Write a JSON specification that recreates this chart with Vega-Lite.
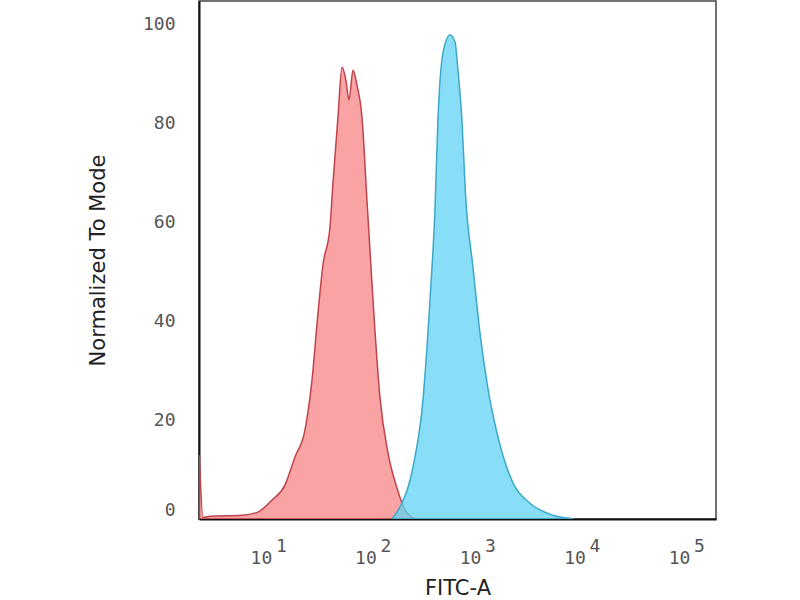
{
  "$schema": "https://vega.github.io/schema/vega-lite/v6.json",
  "width": 517,
  "height": 518,
  "autosize": {"type": "none"},
  "padding": {"left": 199, "top": 1, "right": 84, "bottom": 81},
  "background": "#ffffff",
  "config": {
    "view": {"stroke": "#444444", "strokeWidth": 1.5},
    "axis": {
      "ticks": false,
      "grid": false,
      "domainColor": "#111111",
      "domainWidth": 2,
      "labelFont": "DejaVu Sans Mono",
      "labelFontSize": 18,
      "labelColor": "#555555",
      "titleFont": "DejaVu Sans",
      "titleFontSize": 21,
      "titleFontWeight": "normal",
      "titleColor": "#222222"
    }
  },
  "datasets": {
    "hist": [
      {"series": "control", "fitc": 2.21, "mode": 12.9},
      {"series": "control", "fitc": 2.39, "mode": 0.35},
      {"series": "control", "fitc": 2.79, "mode": 0.56},
      {"series": "control", "fitc": 5.64, "mode": 0.76},
      {"series": "control", "fitc": 8.02, "mode": 1.4},
      {"series": "control", "fitc": 10.9, "mode": 3.8},
      {"series": "control", "fitc": 14.5, "mode": 6.8},
      {"series": "control", "fitc": 18.1, "mode": 12.5},
      {"series": "control", "fitc": 22.6, "mode": 18.0},
      {"series": "control", "fitc": 26.4, "mode": 28.1},
      {"series": "control", "fitc": 30.1, "mode": 41.6},
      {"series": "control", "fitc": 33.6, "mode": 51.4},
      {"series": "control", "fitc": 39.2, "mode": 59.0},
      {"series": "control", "fitc": 41.9, "mode": 68.0},
      {"series": "control", "fitc": 46.8, "mode": 81.3},
      {"series": "control", "fitc": 51.1, "mode": 91.4},
      {"series": "control", "fitc": 55.7, "mode": 88.8},
      {"series": "control", "fitc": 59.6, "mode": 84.8},
      {"series": "control", "fitc": 65.1, "mode": 90.8},
      {"series": "control", "fitc": 71.1, "mode": 87.8},
      {"series": "control", "fitc": 79.4, "mode": 81.3},
      {"series": "control", "fitc": 88.6, "mode": 64.5},
      {"series": "control", "fitc": 98.9, "mode": 47.7},
      {"series": "control", "fitc": 105.6, "mode": 38.2},
      {"series": "control", "fitc": 118, "mode": 24.6},
      {"series": "control", "fitc": 141, "mode": 13.3},
      {"series": "control", "fitc": 171, "mode": 6.4},
      {"series": "control", "fitc": 205, "mode": 1.8},
      {"series": "control", "fitc": 255, "mode": 0.15},
      {"series": "control", "fitc": 300, "mode": 0},
      {"series": "stained", "fitc": 154, "mode": 0.05},
      {"series": "stained", "fitc": 183, "mode": 2.4},
      {"series": "stained", "fitc": 244, "mode": 10.5},
      {"series": "stained", "fitc": 304, "mode": 24.0},
      {"series": "stained", "fitc": 355, "mode": 44.3},
      {"series": "stained", "fitc": 396, "mode": 62.5},
      {"series": "stained", "fitc": 423, "mode": 80.7},
      {"series": "stained", "fitc": 473, "mode": 94.3},
      {"series": "stained", "fitc": 552, "mode": 97.9},
      {"series": "stained", "fitc": 616, "mode": 96.5},
      {"series": "stained", "fitc": 658, "mode": 90.8},
      {"series": "stained", "fitc": 718, "mode": 80.7},
      {"series": "stained", "fitc": 775, "mode": 66.0},
      {"series": "stained", "fitc": 916, "mode": 50.9},
      {"series": "stained", "fitc": 1069, "mode": 37.6},
      {"series": "stained", "fitc": 1248, "mode": 27.5},
      {"series": "stained", "fitc": 1554, "mode": 17.4},
      {"series": "stained", "fitc": 2210, "mode": 7.3},
      {"series": "stained", "fitc": 3213, "mode": 3.2},
      {"series": "stained", "fitc": 5333, "mode": 0.76},
      {"series": "stained", "fitc": 8299, "mode": 0.05}
    ]
  },
  "data": {"name": "hist"},
  "encoding": {
    "y": {
      "field": "mode",
      "type": "quantitative",
      "scale": {"domain": [0, 104.8], "nice": false},
      "axis": {
        "title": "Normalized To Mode",
        "values": [0, 20, 40, 60, 80, 100],
        "labelPadding": 24,
        "titlePadding": 34,
        "labelBaseline": {"condition": {"test": "datum.value === 0", "value": "bottom"}, "value": "middle"}
      }
    }
  },
  "layer": [
    {
      "transform": [{"filter": "datum.series === 'control'"}],
      "mark": {
        "type": "area",
        "interpolate": "monotone",
        "clip": true,
        "fill": "#f8999b",
        "fillOpacity": 0.9,
        "stroke": "#bf434b",
        "strokeWidth": 1.5
      },
      "encoding": {
        "x": {
          "field": "fitc",
          "type": "quantitative",
          "scale": {"type": "log", "domain": [2.19, 193600], "nice": false},
          "axis": {
            "orient": "bottom",
            "title": "FITC-A",
            "values": [10, 100, 1000, 10000, 100000],
            "labelExpr": "'10'",
            "labelOffset": -7,
            "labelPadding": 30,
            "titlePadding": 10
          }
        }
      }
    },
    {
      "transform": [{"filter": "datum.series === 'stained'"}],
      "mark": {
        "type": "area",
        "interpolate": "monotone",
        "clip": true,
        "fill": "#5fd3f3",
        "fillOpacity": 0.75,
        "stroke": "#3ea8c8",
        "strokeWidth": 1.5
      },
      "encoding": {
        "x": {
          "field": "fitc",
          "type": "quantitative",
          "scale": {"type": "log", "domain": [2.19, 193600], "nice": false},
          "axis": {
            "orient": "bottom",
            "title": null,
            "domain": false,
            "values": [10, 100, 1000, 10000, 100000],
            "labelExpr": "round(log(datum.value) / LN10) + ''",
            "labelOffset": 13,
            "labelPadding": 18
          }
        }
      }
    }
  ],
  "resolve": {"axis": {"x": "independent"}}
}
